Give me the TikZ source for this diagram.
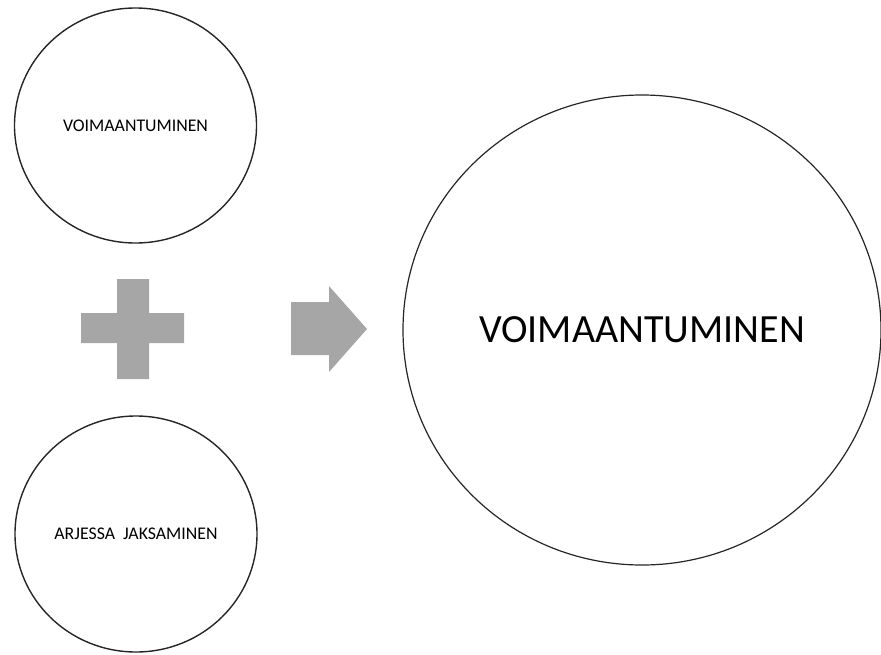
\documentclass[tikz,border=0pt]{standalone}
\usepackage{fontspec}
\setmainfont{Carlito}
\usetikzlibrary{shapes.geometric}
\tikzset{
  bubble/.style={ellipse, draw=black!85, line width=1.4pt, fill=white, inner sep=0pt},
  smalltext/.style={font=\fontsize{17.8}{21}\selectfont},
  bigtext/.style={font=\fontsize{40}{47}\selectfont},
  glyph/.style={fill=black!35, draw=none}
}
\begin{document}
\begin{tikzpicture}[x=1pt, y=-1pt]
  \useasboundingbox (0,0) rectangle (881,654);
  % input bubbles on the left
  \node[bubble, smalltext, minimum width=242pt, minimum height=235pt] (power) at (135.5,125.5) {VOIMAANTUMINEN};
  \node[bubble, smalltext, minimum width=242pt, minimum height=236pt] (coping) at (136,534) {ARJESSA\hspace{0.45em}JAKSAMINEN};
  % result bubble on the right
  \node[bubble, bigtext, line width=1.2pt, minimum width=478pt, minimum height=470pt] (result) at (642,330) {VOIMAANTUMINEN};
  % plus sign
  \path[glyph] (117,279) -- (149,279) -- (149,313) -- (184,313) -- (184,343) -- (149,343)
    -- (149,379) -- (117,379) -- (117,343) -- (81,343) -- (81,313) -- (117,313) -- cycle;
  % block arrow
  \path[glyph] (291,302) -- (329,302) -- (329,286) -- (367,329) -- (329,372) -- (329,355)
    -- (291,355) -- cycle;
\end{tikzpicture}
\end{document}
